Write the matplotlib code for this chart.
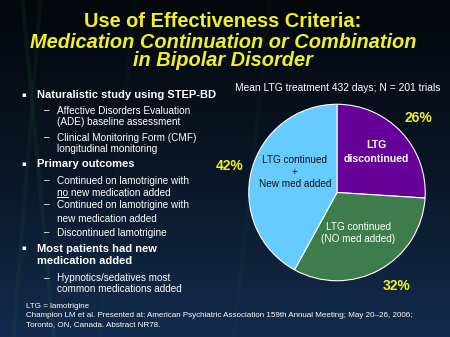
import numpy as np
import matplotlib
matplotlib.use("Agg")
import matplotlib.pyplot as plt
from matplotlib.colors import LinearSegmentedColormap

# slide data
shares = [26, 32, 42]
slice_names = ["LTG\ndiscontinued", "LTG continued\n(NO med added)", "LTG continued\n+\nNew med added"]
slice_colors = ["#660099", "#3e7d4b", "#66ccff"]
pct_labels = ["26%", "32%", "42%"]

title_lines = ["Use of Effectiveness Criteria:",
               "Medication Continuation or Combination",
               "in Bipolar Disorder"]
subtitle = "Mean LTG treatment 432 days; N = 201 trials"

# (level, text, y pixel)
bullets = [
    (0, "Naturalistic study using STEP-BD", 95),
    (1, "Affective Disorders Evaluation", 110.5),
    (2, "(ADE) baseline assessment", 122.5),
    (1, "Clinical Monitoring Form (CMF)", 137.5),
    (2, "longitudinal monitoring", 149.5),
    (0, "Primary outcomes", 164),
    (1, "Continued on lamotrigine with", 180.5),
    (2, "no new medication added", 192.5),
    (1, "Continued on lamotrigine with", 204.5),
    (2, "new medication added", 218.5),
    (1, "Discontinued lamotrigine", 232.5),
    (0, "Most patients had new", 248.5),
    (3, "medication added", 261),
    (1, "Hypnotics/sedatives most", 278),
    (2, "common medications added", 289.5),
]
footnotes = ["LTG = lamotrigine",
             "Champion LM et al. Presented at: American Psychiatric Association 159th Annual Meeting; May 20\u201326, 2006;",
             "Toronto, ON, Canada. Abstract NR78."]

W, H = 450, 337
YELLOW = "#f0f028"
FONT = "Liberation Sans"

fig = plt.figure(figsize=(W / 100, H / 100), dpi=100)

# background gradient
bg = fig.add_axes([0, 0, 1, 1])
bg.set_axis_off()
grad = np.linspace(0, 1, 256).reshape(-1, 1)
cmap = LinearSegmentedColormap.from_list("bg", ["#04070b", "#0a1626", "#132c4e"])
bg.imshow(grad, aspect="auto", cmap=cmap, extent=[0, 1, 0, 1], origin="upper")
# faint green streaks
for x0, x1, a in [(0.05, 0.12, 0.10), (0.09, 0.03, 0.08), (0.30, 0.22, 0.05), (0.60, 0.52, 0.05)]:
    bg.plot([x0, x1], [1.0, 0.0], color="#2f8a3a", lw=3, alpha=a)
bg.set_xlim(0, 1)
bg.set_ylim(0, 1)


def px(x, y):
    return x / W, 1 - y / H


# title (baselines)
for i, (line, y) in enumerate(zip(title_lines, [27.3, 48, 65.5])):
    fig.text(*px(223, y), line, ha="center", va="baseline", color=YELLOW,
             fontsize=14.4, fontweight="bold", style="normal" if i == 0 else "italic",
             family=FONT)

# bullets
under_text = None
for level, txt, y in bullets:
    if level == 0:
        fig.text(*px(21, y), "\u25aa", ha="left", va="center", color="white", fontsize=5, family="DejaVu Sans")
        fig.text(*px(37, y), txt, ha="left", va="center", color="white", fontsize=8,
                 fontweight="bold", family=FONT)
    elif level == 3:
        fig.text(*px(37, y), txt, ha="left", va="center", color="white", fontsize=8,
                 fontweight="bold", family=FONT)
    elif level == 1:
        fig.text(*px(44, y), "\u2013", ha="left", va="center", color="white", fontsize=7.2, family=FONT)
        fig.text(*px(57, y), txt, ha="left", va="center", color="white", fontsize=7.2, family=FONT)
    else:
        t = fig.text(*px(57, y), txt, ha="left", va="center", color="white", fontsize=7.2, family=FONT)
        if txt.startswith("no new"):
            under_text = (t, y)

# underline "no"
if under_text is not None:
    t, y = under_text
    fig.canvas.draw()
    probe = fig.text(*px(57, y), "no", ha="left", va="center", fontsize=7.2, family=FONT, alpha=0)
    ext = probe.get_window_extent(fig.canvas.get_renderer())
    fig.lines.append(plt.Line2D([ext.x0 / W, ext.x1 / W], [1 - (y + 4.5) / H] * 2,
                                transform=fig.transFigure, color="white", lw=0.7))

# subtitle
fig.text(*px(235, 88), subtitle, ha="left", va="center", color="white", fontsize=7.4, family=FONT)

# pie
cx, cy, r = 337, 192.5, 90
ax = fig.add_axes([(cx - r) / W, 1 - (cy + r) / H, 2 * r / W, 2 * r / H])
ax.pie(shares, colors=slice_colors, startangle=90, counterclock=False,
       wedgeprops=dict(edgecolor="white", linewidth=0.8))
ax.set_xlim(-1.02, 1.02)
ax.set_ylim(-1.02, 1.02)
ax.set_axis_off()


def pd(x, y):
    return (x - cx) / r * 1.02, (cy - y) / r * 1.02


ax.text(*pd(376, 152), slice_names[0], ha="center", va="center", color="white",
        fontsize=7.6, fontweight="bold", family=FONT, linespacing=1.4)
ax.text(*pd(358, 233), slice_names[1], ha="center", va="center", color="white",
        fontsize=7.2, family=FONT, linespacing=1.3)
ax.text(*pd(295, 172), slice_names[2], ha="center", va="center", color="#111111",
        fontsize=7.2, family=FONT, linespacing=1.2)

for lab, (x, y) in zip(pct_labels, [(418, 118), (397, 286), (230, 166)]):
    ax.text(*pd(x, y), lab, ha="center", va="center", color=YELLOW, fontsize=10,
            fontweight="bold", family=FONT, clip_on=False)

# footnotes
for txt, y in zip(footnotes, [306, 315.5, 324.5]):
    fig.text(*px(26, y), txt, ha="left", va="center", color="white", fontsize=5.75, family=FONT)

fig.savefig("out.png", dpi=100)
